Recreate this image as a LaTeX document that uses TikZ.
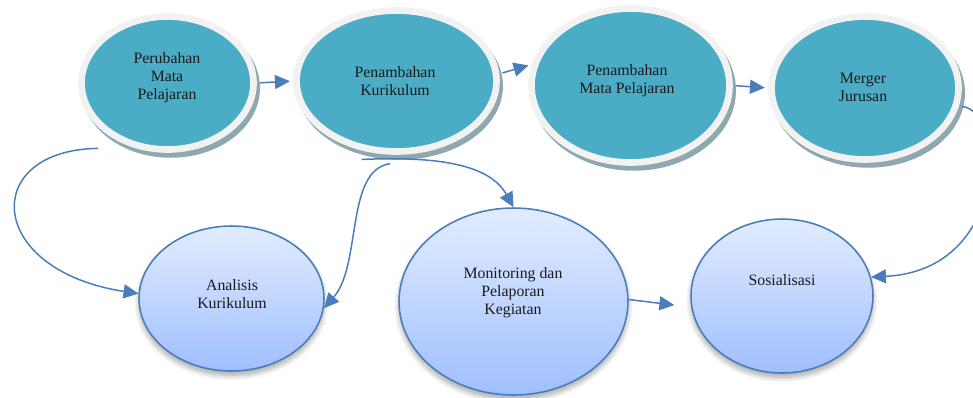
\documentclass[tikz,border=0pt]{standalone}
\usepackage{fontspec}
\setmainfont{Liberation Serif}
\usetikzlibrary{shapes.geometric,shadows,shadows.blur,arrows.meta}
\definecolor{teal1}{HTML}{4BACC6}
\definecolor{rim}{HTML}{F2F2F2}
\definecolor{shad}{HTML}{8FA8AD}
\definecolor{btop}{HTML}{E2ECFF}
\definecolor{bbot}{HTML}{A0BFFF}
\definecolor{bline}{HTML}{4A7EBB}
\definecolor{arr}{HTML}{4A7EBB}
\definecolor{txtc}{HTML}{1A1A1A}
\tikzset{
  topell/.style={ellipse, inner sep=0pt, fill=teal1, draw=rim, line width=3.8pt,
    drop shadow={shadow xshift=1.8pt, shadow yshift=-2.8pt, fill=shad, draw=shad, line width=3.8pt, opacity=1}},
  botell/.style={ellipse, inner sep=0pt, top color=btop, bottom color=bbot, draw=bline, line width=0.9pt,
    blur shadow={shadow xshift=0pt, shadow yshift=-2.5pt, shadow blur radius=3pt, shadow blur steps=8, shadow opacity=35}},
  txt/.style={align=center, font=\fontsize{9}{10.3}\selectfont, text=txtc, inner sep=0pt},
  conn/.style={draw=arr, line width=0.85pt, -{Triangle[length=8.5pt,width=8pt]}},
}
\begin{document}
\begin{tikzpicture}[x=0.02cm, y=-0.02cm]
\useasboundingbox (0,0) rectangle (973,397);
% top ellipses
\node[topell, minimum width=3.44cm, minimum height=2.66cm] (p) at (167.5,83) {};
\node[topell, minimum width=4.0cm, minimum height=2.82cm] (pk) at (396.5,81) {};
\node[topell, minimum width=3.96cm, minimum height=3.08cm] (pmp) at (630.5,85.5) {};
\node[topell, minimum width=3.74cm, minimum height=2.86cm] (mg) at (865,88) {};
% bottom ellipses
\node[botell, minimum width=3.7cm, minimum height=2.9cm] (an) at (231.5,298.5) {};
\node[botell, minimum width=4.58cm, minimum height=3.74cm] (mon) at (513.5,301.5) {};
\node[botell, minimum width=3.64cm, minimum height=3.08cm] (sos) at (782,296) {};
% texts
\node[txt] (tp) at (167,78) {Perubahan\\Mata\\Pelajaran};
\node[txt] (tpk) at (395,81) {Penambahan\\Kurikulum};
\node[txt] (tpmp) at (627,81) {Penambahan\\Mata Pelajaran};
\node[txt] (tmg) at (863,87) {Merger\\Jurusan};
\node[txt] (tan) at (232,294) {Analisis\\Kurikulum};
\node[txt] (tmon) at (513,293) {Monitoring dan\\Pelaporan\\Kegiatan};
\node[txt] (tsos) at (782,280) {Sosialisasi};
% connectors
\draw[conn, shorten <=1.9pt, shorten >=1.9pt] (p.east) -- (pk.west);
\draw[conn, shorten <=1.9pt, shorten >=1.9pt] (pk.4) -- (pmp.168);
\draw[conn, shorten <=1.9pt, shorten >=1.9pt] (pmp.east) -- (mg.west);
\draw[conn, shorten <=1.9pt] (mg.-11) .. controls (1005,110) and (1010,270) .. (sos.12);
\draw[conn] ([xshift=-0.41cm,yshift=-0.14cm]p.230) .. controls (-20,150) and (-15,270) .. (an.177);
\draw[conn] ([yshift=-0.18cm]pk.265) .. controls (345,170) and (362,265) .. (an.-6);
\draw[conn] ([xshift=-0.18cm,yshift=-0.14cm]pk.250) .. controls (440,156) and (490,165) .. (mon.90);
\draw[conn, shorten >=0.34cm] (mon.1) -- (sos.187);
\end{tikzpicture}
\end{document}
